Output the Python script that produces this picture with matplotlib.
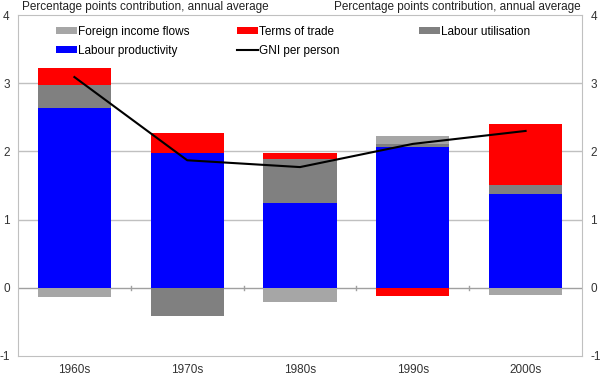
import matplotlib
matplotlib.use("Agg")
import matplotlib.pyplot as plt
import numpy as np

plt.rcParams['font.family'] = ['Liberation Sans', 'DejaVu Sans']

decades = ['1960s', '1970s', '1980s', '1990s', '2000s']
labour_prod = [2.64, 1.97, 1.245, 2.07, 1.38]
labour_util = [0.34, -0.41, 0.645, 0.04, 0.12]
foreign_inc = [-0.14, 0.0, -0.21, 0.12, -0.11]
terms_trade = [0.25, 0.30, 0.09, -0.12, 0.90]
gni = [3.09, 1.87, 1.77, 2.11, 2.30]

series = [
    ('Labour productivity', labour_prod, '#0000ff'),
    ('Labour utilisation', labour_util, '#808080'),
    ('Foreign income flows', foreign_inc, '#a6a6a6'),
    ('Terms of trade', terms_trade, '#ff0000'),
]

fs = 8.5
fig = plt.figure(figsize=(6, 3.75), dpi=100)
ax = fig.add_axes([0.03, 0.0507, 0.94, 0.9093])
x = np.arange(len(decades))

pos_base = np.zeros(len(decades))
neg_base = np.zeros(len(decades))
handles = {}
for name, vals, col in series:
    vals = np.array(vals)
    bottoms = np.where(vals >= 0, pos_base, neg_base)
    b = ax.bar(x, vals, 0.65, bottom=bottoms, color=col, edgecolor='none', zorder=2)
    handles[name] = b
    pos_base = pos_base + np.where(vals >= 0, vals, 0)
    neg_base = neg_base + np.where(vals < 0, vals, 0)

ln, = ax.plot(x, gni, color='black', lw=1.5, zorder=3)
handles['GNI per person'] = ln

ax.set_xlim(-0.5, len(decades) - 0.5)
ax.set_ylim(-1, 4)
for y in [1, 2, 3]:
    ax.axhline(y, color='#c0c0c0', lw=1, zorder=1)
ax.axhline(0, color='#a0a0a0', lw=1, zorder=1)
for xt in x[:-1] + 0.5:
    ax.plot([xt, xt], [-0.03, 0.03], color='#a0a0a0', lw=1, zorder=1)

for s in ax.spines.values():
    s.set_color('#c0c0c0')
ax.set_yticks([-1, 0, 1, 2, 3, 4])
ax.set_yticklabels(['-1', '0', '1', '2', '3', '4'])
ax.tick_params(axis='y', length=0, labelsize=fs, colors='#333333', pad=6,
               labelleft=True, labelright=True)
ax.set_xticks(x)
ax.set_xticklabels(decades)
ax.tick_params(axis='x', length=0, labelsize=fs, colors='#333333', pad=6)

fig.text(0.037, 0.966, 'Percentage points contribution, annual average', fontsize=fs,
         color='#222222', ha='left', va='bottom')
fig.text(0.968, 0.966, 'Percentage points contribution, annual average', fontsize=fs,
         color='#222222', ha='right', va='bottom')

# legend: three separate columns
cols = [
    (0.067, ['Foreign income flows', 'Labour productivity']),
    (0.388, ['Terms of trade', 'GNI per person']),
    (0.711, ['Labour utilisation']),
]
legs = []
for xpos, names in cols:
    leg = ax.legend([handles[n] for n in names], names, loc='upper left',
                    bbox_to_anchor=(xpos, 0.969), frameon=False, fontsize=fs,
                    handlelength=1.8, handleheight=0.5, handletextpad=0.05,
                    labelspacing=0.6, borderpad=0, borderaxespad=0)
    legs.append(leg)
for leg in legs[:-1]:
    ax.add_artist(leg)

fig.savefig('out.png', dpi=100)
